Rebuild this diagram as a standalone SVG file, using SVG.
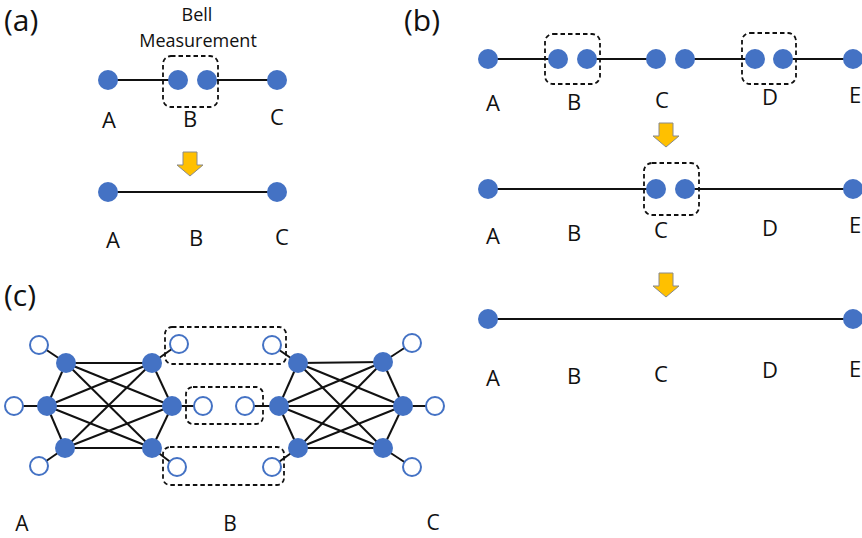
<svg xmlns="http://www.w3.org/2000/svg" xmlns:xlink="http://www.w3.org/1999/xlink" width="862" height="538" viewBox="0 0 862 538">
<style>
  text { font-family: "Open Sans", "Noto Sans", "DejaVu Sans", sans-serif; fill: #111; }
  .panel { font-size: 30px; }
  .lbl { font-size: 22px; text-anchor: middle; }
  .lblc { font-size: 21px; text-anchor: middle; }
  .title { font-size: 18px; text-anchor: middle; }
  .node { fill: #4472C4; }
  .open { fill: #fff; stroke: #4472C4; stroke-width: 2; }
  .edge { stroke: #111; stroke-width: 2; fill: none; }
  .edgec { stroke: #111; stroke-width: 2; fill: none; }
  .box { fill: none; stroke: #111; stroke-width: 1.8; stroke-dasharray: 4.5 3; }
  .arr { fill: #FFC000; stroke: #8a8a8a; stroke-width: 1; }
</style>
<defs>
  <path id="arrow" d="M-7,0 H7 V13 H13 L0,24 L-13,13 H-7 Z"/>
</defs>
<rect width="862" height="538" fill="#fff"/>

<!-- Panel labels -->
<text class="panel" x="4" y="31">(a)</text>
<text class="panel" x="404" y="31">(b)</text>
<text class="panel" x="4" y="306">(c)</text>

<!-- Connectors -->
<g id="connectors">
  <!-- (a) -->
  <line class="edge" x1="108" y1="80" x2="178" y2="80"/>
  <line class="edge" x1="207" y1="80" x2="277" y2="80"/>
  <line class="edge" x1="108" y1="192" x2="277" y2="192"/>
  <!-- (b) row 1 -->
  <line class="edge" x1="488" y1="59" x2="558" y2="59"/>
  <line class="edge" x1="587" y1="59" x2="656" y2="59"/>
  <line class="edge" x1="685" y1="59" x2="755" y2="59"/>
  <line class="edge" x1="783" y1="59" x2="853" y2="59"/>
  <!-- (b) row 2 -->
  <line class="edge" x1="488" y1="189" x2="656" y2="189"/>
  <line class="edge" x1="685" y1="189" x2="853" y2="189"/>
  <!-- (b) row 3 -->
  <line class="edge" x1="488" y1="319" x2="853" y2="319"/>
  <!-- (c) left cluster -->
  <g class="edgec">
    <line x1="66" y1="363" x2="152" y2="363"/>
    <line x1="66" y1="363" x2="47" y2="406"/>
    <line x1="66" y1="363" x2="172" y2="406"/>
    <line x1="66" y1="363" x2="152" y2="448"/>
    <line x1="47" y1="406" x2="152" y2="363"/>
    <line x1="47" y1="406" x2="172" y2="406"/>
    <line x1="47" y1="406" x2="152" y2="448"/>
    <line x1="47" y1="406" x2="65" y2="448"/>
    <line x1="65" y1="448" x2="152" y2="363"/>
    <line x1="65" y1="448" x2="172" y2="406"/>
    <line x1="65" y1="448" x2="152" y2="448"/>
    <line x1="152" y1="363" x2="172" y2="406"/>
    <line x1="172" y1="406" x2="152" y2="448"/>
    <line x1="66" y1="363" x2="39" y2="345"/>
    <line x1="47" y1="406" x2="14" y2="406"/>
    <line x1="65" y1="448" x2="39" y2="466"/>
    <line x1="152" y1="363" x2="179" y2="344"/>
    <line x1="172" y1="406" x2="203" y2="406"/>
    <line x1="152" y1="448" x2="177" y2="467"/>
  </g>
  <!-- (c) right cluster -->
  <g class="edgec">
    <line x1="298" y1="363" x2="383" y2="362"/>
    <line x1="298" y1="363" x2="279" y2="406"/>
    <line x1="298" y1="363" x2="403" y2="406"/>
    <line x1="298" y1="363" x2="383" y2="448"/>
    <line x1="279" y1="406" x2="383" y2="362"/>
    <line x1="279" y1="406" x2="403" y2="406"/>
    <line x1="279" y1="406" x2="383" y2="448"/>
    <line x1="279" y1="406" x2="298" y2="448"/>
    <line x1="298" y1="448" x2="383" y2="362"/>
    <line x1="298" y1="448" x2="403" y2="406"/>
    <line x1="298" y1="448" x2="383" y2="448"/>
    <line x1="383" y1="362" x2="403" y2="406"/>
    <line x1="403" y1="406" x2="383" y2="448"/>
    <line x1="298" y1="363" x2="272" y2="345"/>
    <line x1="279" y1="406" x2="245" y2="406"/>
    <line x1="298" y1="448" x2="272" y2="467"/>
    <line x1="383" y1="362" x2="412" y2="343"/>
    <line x1="403" y1="406" x2="435" y2="406"/>
    <line x1="383" y1="448" x2="412" y2="467"/>
  </g>
</g>

<!-- Panel (a) -->
<g id="a-title">
  <text class="title" x="197" y="21">Bell</text>
  <text class="title" x="198" y="47">Measurement</text>
</g>
<g id="a-box"><rect class="box" x="163" y="56" width="55" height="51" rx="8"/></g>
<g id="a-A1"><circle class="node" cx="108" cy="80" r="10"/><text class="lbl" x="109" y="128">A</text></g>
<g id="a-B1"><circle class="node" cx="178" cy="80" r="10"/><circle class="node" cx="207" cy="80" r="10"/><text class="lbl" x="190" y="127">B</text></g>
<g id="a-C1"><circle class="node" cx="277" cy="80" r="10"/><text class="lbl" x="277" y="125">C</text></g>
<g id="a-arrow"><use xlink:href="#arrow" href="#arrow" class="arr" x="190" y="152"/></g>
<g id="a-A2"><circle class="node" cx="108" cy="192" r="10"/><text class="lbl" x="113" y="248">A</text></g>
<g id="a-B2"><text class="lbl" x="196" y="246">B</text></g>
<g id="a-C2"><circle class="node" cx="277" cy="192" r="10"/><text class="lbl" x="282" y="245">C</text></g>

<!-- Panel (b) row 1 -->
<g id="b-box1"><rect class="box" x="545" y="34" width="55" height="50" rx="8"/></g>
<g id="b-box2"><rect class="box" x="742" y="33" width="54" height="51" rx="8"/></g>
<g id="b1-A"><circle class="node" cx="488" cy="59" r="10"/><text class="lbl" x="493" y="111">A</text></g>
<g id="b1-B"><circle class="node" cx="558" cy="59" r="10"/><circle class="node" cx="587" cy="59" r="10"/><text class="lbl" x="574" y="110">B</text></g>
<g id="b1-C"><circle class="node" cx="656" cy="59" r="10"/><circle class="node" cx="685" cy="59" r="10"/><text class="lbl" x="662" y="108">C</text></g>
<g id="b1-D"><circle class="node" cx="755" cy="59" r="10"/><circle class="node" cx="783" cy="59" r="10"/><text class="lbl" x="770" y="105">D</text></g>
<g id="b1-E"><circle class="node" cx="853" cy="59" r="10"/><text class="lbl" x="855" y="103">E</text></g>
<g id="b-arrow1"><use xlink:href="#arrow" href="#arrow" class="arr" x="666" y="123"/></g>

<!-- Panel (b) row 2 -->
<g id="b-box3"><rect class="box" x="644" y="163" width="55" height="52" rx="8"/></g>
<g id="b2-A"><circle class="node" cx="488" cy="189" r="10"/><text class="lbl" x="493" y="244">A</text></g>
<g id="b2-B"><text class="lbl" x="574" y="241">B</text></g>
<g id="b2-C"><circle class="node" cx="656" cy="189" r="10"/><circle class="node" cx="685" cy="189" r="10"/><text class="lbl" x="661" y="238">C</text></g>
<g id="b2-D"><text class="lbl" x="770" y="236">D</text></g>
<g id="b2-E"><circle class="node" cx="853" cy="189" r="10"/><text class="lbl" x="855" y="233">E</text></g>
<g id="b-arrow2"><use xlink:href="#arrow" href="#arrow" class="arr" x="666" y="273"/></g>

<!-- Panel (b) row 3 -->
<g id="b3-A"><circle class="node" cx="488" cy="319" r="10"/><text class="lbl" x="493" y="386">A</text></g>
<g id="b3-B"><text class="lbl" x="574" y="384">B</text></g>
<g id="b3-C"><text class="lbl" x="661" y="382">C</text></g>
<g id="b3-D"><text class="lbl" x="770" y="378">D</text></g>
<g id="b3-E"><circle class="node" cx="853" cy="319" r="10"/><text class="lbl" x="855" y="377">E</text></g>

<!-- Panel (c) boxes -->
<g id="c-box-top"><rect class="box" x="165" y="327" width="121" height="37" rx="7"/></g>
<g id="c-box-mid"><rect class="box" x="186" y="387" width="77" height="37" rx="7"/></g>
<g id="c-box-bot"><rect class="box" x="163" y="447" width="121" height="38" rx="7"/></g>

<!-- Panel (c) left cluster -->
<g id="c-A">
  <circle class="node" cx="66" cy="363" r="10"/>
  <circle class="node" cx="152" cy="363" r="10"/>
  <circle class="node" cx="47" cy="406" r="10"/>
  <circle class="node" cx="172" cy="406" r="10"/>
  <circle class="node" cx="65" cy="448" r="10"/>
  <circle class="node" cx="152" cy="448" r="10"/>
  <circle class="open" cx="39" cy="345" r="9"/>
  <circle class="open" cx="14" cy="406" r="9"/>
  <circle class="open" cx="39" cy="466" r="9"/>
  <circle class="open" cx="179" cy="344" r="9"/>
  <circle class="open" cx="203" cy="406" r="9"/>
  <circle class="open" cx="177" cy="467" r="9"/>
  <text class="lblc" x="22" y="531">A</text>
</g>

<!-- Panel (c) right cluster -->
<g id="c-C">
  <circle class="node" cx="298" cy="363" r="10"/>
  <circle class="node" cx="383" cy="362" r="10"/>
  <circle class="node" cx="279" cy="406" r="10"/>
  <circle class="node" cx="403" cy="406" r="10"/>
  <circle class="node" cx="298" cy="448" r="10"/>
  <circle class="node" cx="383" cy="448" r="10"/>
  <circle class="open" cx="272" cy="345" r="9"/>
  <circle class="open" cx="245" cy="406" r="9"/>
  <circle class="open" cx="272" cy="467" r="9"/>
  <circle class="open" cx="412" cy="343" r="9"/>
  <circle class="open" cx="435" cy="406" r="9"/>
  <circle class="open" cx="412" cy="467" r="9"/>
  <text class="lblc" x="433" y="530">C</text>
</g>
<g id="c-B"><text class="lblc" x="230" y="531">B</text></g>
</svg>
